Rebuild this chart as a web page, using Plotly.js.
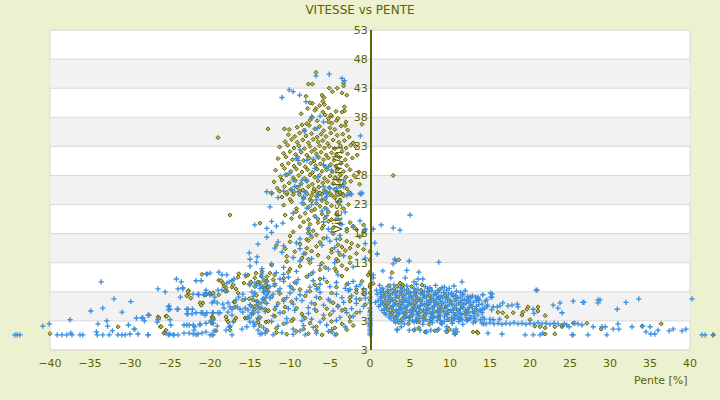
<!DOCTYPE html>
<html>
<head>
<meta charset="utf-8">
<script src="https://cdn.plot.ly/plotly-3.0.1.min.js"></script>
<style>
  html, body { margin: 0; padding: 0; background: #ecf1cf; }
  #graphique { width: 720px; height: 400px; }
</style>
</head>
<body>
<div id="graphique"></div>
<script>
// ticks des axes
const penteTicks = [-40, -35, -30, -25, -20, -15, -10, -5, 0, 5, 10, 15, 20, 25, 30, 35, 40];
const vitesseTicks = [-2, 3, 8, 13, 18, 23, 28, 33, 38, 43, 48, 53];
const vitesseLabels = ['3', '3', '8', '13', '18', '23', '28', '33', '38', '43', '48', '53'];

// points [pente, vitesse] serie jaune (losanges)
const jauneGauche = [
  [-40,0.8],[-31.5,2.0],[-26.5,3.7],[-26.2,2.0],[-25.7,1.0],[-25.5,3.8],[-22.7,7.6],[-22.7,8.2],[-21,11.0],[-20.9,6.1],[-20,7.6],[-19.75,7.6],[-19.6,3.3],
  [-20.4,11.1],[-18.9,10.0],[-18.6,9.9],[-18.4,9.5],[-18.25,9.0],[-18,8.7],[-17.9,8.1],[-17.25,8.8],[-17.1,9.2],[-16.75,8.5],[-16.5,7.8],[-16.4,11.1],[-16.5,10.5],
  [-15.5,10.7],[-15.25,10.9],[-15.75,9.5],[-15.1,9.3],[-14.9,9.7],[-14.25,11.2],[-14,9.7],
  [-13.6,10.7],[-13.25,10.0],[-13,9.3],[-13.4,8.8],[-12.9,8.7],[-13.25,8.0],[-12.75,8.8],[-22.75,8.1],[-22.9,7.3],[-22.4,6.9],[-21.25,6.1],[-21.1,5.7],
  [-20.75,7.5],[-20.5,7.5],[-20,7.8],[-19.6,7.8],[-18.9,7.5],[-18.1,8.1],[-17,6.25],[-16.9,6.25],[-15.9,6.6],[-15.1,6.8],[-14.6,6.6],[-14.1,6.4],
  [-16.9,5.4],[-14.9,5.6],[-14.4,5.0],[-13.75,5.2],[-14,5.9],[-13.1,5.0],[-12.75,4.7],
  [-26.4,3.5],[-25.4,3.8],[-26.1,2.0],[-25.75,0.9],[-25.5,1.4],[-19.75,3.7],[-19.6,3.5],[-19.9,3.0],[-19.75,2.6],[-17.9,3.2],[-18,3.7],[-17.75,2.8],
  [-17.5,2.0],[-17.5,1.4],[-17,3.0],[-16.75,3.5],[-15.6,3.5],[-15.4,3.5],[-14,3.3],[-14,2.8],[-13,2.8],[-12.9,1.4],[-19.25,1.3],
  [-19,34.5],[-17.5,21.2],[-13.75,19.8],[-12.75,36.0]
];

const jaunePic = [
  // haut du pic
  [-6.75,45.7],[-7.7,43.7],[-7.2,43.7],[-3.3,43.9],[-3.3,43.4],[-5.1,43],[-4.7,42.4],[-4.1,43],[-3.5,42.2],[-2.9,41.8],[-8,41.6],[-7.2,40.4],[-7.5,40.5],
  [-6,41.8],[-5.75,41.4],[-5.9,40.7],[-5.7,40.2],[-6.75,39.5],[-6.9,39.2],[-3.2,39.8],[-3.2,39.1],[-4.25,39],[-4.8,38.2],[-5.2,37.8],[-5.6,38.4],
  [-7.9,36.9],[-8.5,36.7],[-7.5,37.5],[-5.2,37.2],[-4.8,37],[-4.2,37.4],[-3,37.2],[-3.1,36.6],[-1.0,36.8],[-10.7,36],[-10.1,35.9],
  [-8.6,38.6],[-7.2,38.0],[-6.6,37.4],[-5.9,38.9],[-4.9,38.4],[-4.0,37.8],[-3.5,38.9],[-7.8,39.5],[-6.3,40.0],[-5.2,39.6],
  [-1.6,31.5],[-1.3,26.5],[-1.8,33.0],
  // coeur du pic
  [-9.1,36.3],[-8.2,35.8],[-7.6,36.6],[-6.9,36.0],[-6.3,36.4],[-5.8,35.7],[-5.0,36.2],[-4.4,35.9],[-3.6,36.5],[-2.8,35.8],
  [-10.2,35.0],[-9.4,34.7],[-8.8,35.3],[-8.0,34.8],[-7.3,35.2],[-6.6,34.6],[-6.1,35.1],[-5.5,34.7],[-4.9,35.3],[-4.1,34.9],[-3.4,35.1],[-2.6,34.6],
  [-10.6,33.8],[-9.8,34.2],[-9.1,33.7],[-8.4,34.1],[-7.7,33.6],[-7.1,34.2],[-6.5,33.8],[-5.9,34.0],[-5.3,33.5],[-4.6,34.1],[-3.9,33.7],[-3.2,34.0],[-2.1,33.6],
  [-11.3,32.9],[-10.3,33.2],[-9.5,32.7],[-8.9,33.1],[-8.2,32.6],[-7.5,33.0],[-6.9,32.5],[-6.3,33.1],[-5.7,32.7],[-5.1,33.0],[-4.4,32.6],[-3.7,33.1],[-3.0,32.7],[-2.4,33.2],
  [-10.8,31.8],[-10.0,32.1],[-9.3,31.6],[-8.6,32.0],[-7.9,31.5],[-7.3,32.1],[-6.7,31.7],[-6.1,32.0],[-5.5,31.5],[-4.8,31.9],[-4.2,31.6],[-3.5,32.1],[-2.8,31.7],
  [-11.5,30.9],[-10.5,31.2],[-9.7,30.7],[-9.0,31.1],[-8.3,30.6],[-7.6,31.0],[-7.0,30.5],[-6.4,31.1],[-5.8,30.7],[-5.2,31.0],[-4.5,30.6],[-3.8,31.1],[-3.1,30.7],[-2.2,31.0],
  [-11.0,29.8],[-10.2,30.1],[-9.5,29.6],[-8.8,30.0],[-8.1,29.5],[-7.4,30.1],[-6.8,29.7],[-6.2,30.0],[-5.6,29.5],[-4.9,29.9],[-4.3,29.6],[-3.6,30.1],[-2.9,29.7],
  [-11.8,28.9],[-10.7,29.2],[-9.9,28.7],[-9.2,29.1],[-8.5,28.6],[-7.8,29.0],[-7.2,28.5],[-6.6,29.1],[-6.0,28.7],[-5.4,29.0],[-4.7,28.6],[-4.0,29.1],[-3.3,28.7],[-2.5,29.0],[-1.4,28.6],
  [-11.2,27.8],[-10.4,28.1],[-9.6,27.6],[-8.9,28.0],[-8.2,27.5],[-7.5,28.1],[-6.9,27.7],[-6.3,28.0],[-5.7,27.5],[-5.0,27.9],[-4.4,27.6],[-3.7,28.1],[-3.0,27.7],[-2.0,28.0],
  [-12.0,26.9],[-11.0,27.2],[-10.1,26.7],[-9.3,27.1],[-8.6,26.6],[-7.9,27.0],[-7.2,26.5],[-6.5,27.1],[-5.9,26.7],[-5.3,27.0],[-4.6,26.6],[-3.9,27.1],[-3.2,26.7],[-2.4,27.0],
  [-11.6,25.8],[-10.7,26.1],[-9.9,25.6],[-9.1,26.0],[-8.4,25.5],[-7.7,26.1],[-7.0,25.7],[-6.4,26.0],[-5.7,25.5],[-5.1,25.9],[-4.4,25.6],[-3.7,26.1],[-2.9,25.7],
  [-12.3,25.0],[-11.3,25.3],[-10.4,24.8],[-9.5,25.2],[-8.8,24.7],[-8.0,25.1],[-7.3,24.6],[-6.7,25.2],[-6.0,24.8],[-5.4,25.1],[-4.8,24.6],[-4.1,25.2],[-3.4,24.8],[-2.6,25.1],
  // bas du pic
  [-11,24.3],[-10.4,25.1],[-10,23.9],[-9.6,24.7],[-8.75,25.3],[-8.3,24.1],[-7.9,24.8],[-7.5,23.9],[-7.1,25.2],[-6.7,24.4],[-6.25,25.0],[-5.6,24.0],[-5,24.9],[-4.4,24.2],[-3.75,25.1],[-3.3,24.5],
  [-10.8,22.9],[-9.8,23.5],[-9.2,22.3],[-8.3,23.1],[-7.7,22.5],[-7.3,23.6],[-6.9,22.2],[-6.7,23.2],[-6.25,22.7],[-6,23.7],[-5.6,22.4],[-5.4,23.3],[-4.8,22.8],[-4,23.4],[-3.3,22.3],[-2.7,23.0],
  [-10.6,21.2],[-9.8,20.6],[-9.2,21.8],[-8.75,20.9],[-8.1,21.5],[-7.7,20.4],[-7.3,21.9],[-6.9,21.0],[-6.5,20.5],[-6,21.4],[-5.6,20.7],[-5.2,21.7],[-4.8,20.4],[-4.2,21.3],
  [-8.75,19.2],[-8.3,20.0],[-7.7,18.7],[-7.5,19.6],[-6.5,19.9],[-6,18.9],[-5.8,19.4],[-5.2,20.1],[-4.6,19.0],[-3.75,19.7],[-2.9,18.8],[-2.5,19.9],[-2.1,19.3],[-1.7,18.7],[-0.8,19.5],
  [-10,17.6],[-9.6,18.3],[-7.9,17.0],[-7.7,18.1],[-7.3,17.4],[-7.1,18.5],[-6.7,17.8],[-5.8,17.2],[-4.6,18.0],[-3.75,17.1],[-2.9,18.4],[-1.25,17.5],[-0.8,18.2],
  [-11.7,16.0],[-10.6,15.4],[-10,16.6],[-8.75,16.2],[-7.9,15.5],[-7.7,16.8],[-6.7,15.8],[-6.25,16.5],[-4.8,15.3],[-4,16.1],[-3.5,15.7],[-2.9,16.7],[-2.5,15.5],[-2.3,16.3],[-1.5,15.9],[-0.8,15.3],
  [-10.4,14.1],[-9.4,14.9],[-8.5,13.8],[-8.1,14.6],[-7.7,13.6],[-7.3,15.0],[-6.5,14.3],[-5.2,13.9],[-4.8,14.8],[-4.2,13.6],[-3.75,14.4],[-3.1,15.1],[-2.5,13.9],[-1.7,14.6],
  [-12.3,12.6],[-10.4,13.2],[-10,11.9],[-8.75,12.4],[-7.5,13.0],[-6.25,11.8],[-6,12.9],[-5.6,12.2],[-4.4,12.0],[-4,13.3],[-3.5,12.5],[-2.9,11.9],[-2.5,13.0],
  [-14.4,10.4],[-13.5,11.5],[-12.9,10.6],[-12.5,11.2],[-12.1,10.1],[-11.9,10.9],[-10.8,10.3],[-10.2,11.4],[-7.9,10.6],[-7.3,11.1],[-6.25,10.2],[-4.2,11.5],[-3.5,10.7],
  [-14.4,8.9],[-13.75,9.6],[-13.1,8.5],[-12.9,9.9],[-11.9,9.1],[-9.8,8.7],[-9.4,9.6],[-8.75,8.4],[-6.9,9.2],[-6.5,8.6],[-5.4,9.7],[-4.2,8.8],[-2.9,9.3],[-1.7,8.4],[-1,9.8],
  [-14.2,7.4],[-13.3,6.8],[-12.7,8.0],[-12.3,7.1],[-11.25,7.7],[-10.8,6.7],[-8.1,7.3],[-7.5,8.1],[-6.25,6.9],[-4.8,7.8],[-2.5,7.0],[-1.7,7.9],[-1.25,6.7],
  [-14.4,5.5],[-13.1,6.2],[-11.9,5.0],[-11.5,6.0],[-10.6,5.4],[-9.8,6.3],[-9.2,5.2],[-6.9,5.9],[-5.4,5.1],[-4.6,6.1],[-4,5.6],[-3.1,5.0],[-2.5,6.4],[-0.6,5.8],
  [-14.6,4.3],[-13.75,3.6],[-12.7,4.8],[-11.9,3.8],[-10.8,4.5],[-9.6,3.3],[-8.5,4.2],[-8.1,3.5],[-6.7,4.7],[-5.8,3.4],[-5,4.1],[-3.5,4.8],[-2.5,3.7],[-1.7,4.4],
  [-13.75,2.2],[-12.7,2.9],[-11.7,1.7],[-10.8,2.5],[-9.8,3.0],[-8.3,1.6],[-7.5,2.6],[-6.7,2.0],[-4.8,2.9],[-4.4,1.8],[-3.5,2.5],[-2.9,1.5],[-2.5,2.9],[-2.1,2.2],
  [-11.7,1.0],[-10.4,0.7],[-9.2,1.2],[-7.7,0.8],[-6.7,1.3],[-6,0.6],[-4.8,1.1],[-4.2,0.7],
  [0,2.5],[0,3.3],[0,4.7],[0,6.6],[0,7.8],[0,8.8],[0,9.2],[0,11.4],[0,13.5],[0,14.9],[-0.25,10.9],[0.4,9.4]
];

const jauneDroite = [
  [2.9,28.0],[2.75,11.3],[3.6,13.5],[3.75,9.5],[4.1,9.2],[4.0,8.8],[3.4,9.0],
  [2.4,9.1],[5.2,8.9],[6.5,9.2],
  [1.4,8.4],[2.2,8.2],[3.0,8.5],[3.9,8.2],[4.7,8.4],[5.6,8.1],[6.4,8.3],[7.3,8.2],[8.7,8.4],
  [1.6,7.7],[2.4,7.5],[3.2,7.8],[4.1,7.4],[4.9,7.7],[5.7,7.5],[6.6,7.8],[7.4,7.4],[8.2,7.6],[9.4,7.5],
  [1.8,7.0],[2.6,6.8],[3.5,7.1],[4.3,6.7],[5.2,7.0],[6.0,6.8],[6.9,7.1],[7.7,6.7],[8.6,6.9],[9.6,7.0],[10.8,6.8],
  [1.5,6.3],[2.3,6.1],[3.1,6.4],[3.9,6.0],[4.8,6.3],[5.6,6.1],[6.4,6.4],[7.3,6.0],[8.1,6.2],[9.0,6.1],[10.1,6.3],[11.3,6.0],
  [1.9,5.6],[2.7,5.4],[3.6,5.7],[4.4,5.3],[5.3,5.6],[6.1,5.4],[6.9,5.7],[7.8,5.3],[8.6,5.5],[9.5,5.4],[10.4,5.6],[11.6,5.3],[12.7,5.5],
  [2.2,4.9],[3.0,4.7],[3.9,5.0],[4.7,4.6],[5.5,4.9],[6.4,4.7],[7.2,5.0],[8.1,4.6],[9.0,4.8],[9.9,4.7],[11.0,4.9],[12.2,4.6],[13.4,4.8],
  [2.6,4.2],[3.4,4.0],[4.3,4.3],[5.1,3.9],[6.0,4.2],[6.8,4.0],[7.7,4.3],[8.6,3.9],[9.6,4.1],[10.7,4.0],[11.9,4.2],
  [3.1,3.5],[4.0,3.3],[4.9,3.6],[5.8,3.2],[6.7,3.5],[7.6,3.3],[8.6,3.5],[9.8,3.2],[11.1,3.4],[12.3,3.3],
  [3.6,2.7],[4.8,2.5],[6.1,2.8],[7.4,2.4],[8.9,2.6],
  [19.75,5.4],[19.6,5.0],[21,5.4],[21,4.7],[21.9,3.9],
  [16,4.5],[16.6,4.4],[17.1,3.7],[17.9,4.4],[19.0,4.0],[19.1,4.5],[20,3.2],[20.6,2.1],[21.25,2.0],[21.9,1.8],[23.1,2.0],
  [9.6,1.1],[13.4,1.1],[13.5,0.9],[10.6,0.75],[6.9,1.1],[5.5,1.4],[6.1,1.8],[8.1,1.3],[9.9,1.6],[12.9,1.1],
  [25.4,2.6],[27.1,2.6],[28.9,1.6],[34,2.1],[36.4,2.5],[42.9,0.6],[24,2.0],[24.1,2.3],[23.1,0.75],[21.9,0.75]
];

// points [pente, vitesse] serie bleue (croix)
const bleuGauche = [
  [-44.4,0.6],[-44.1,0.6],[-43.75,0.6],[-40.9,2.1],[-40.1,2.5],
  [-39.1,0.6],[-38.5,0.6],[-37.9,0.6],[-37.4,0.9],[-37.25,0.6],[-36.25,0.6],[-35.9,0.6],
  [-37.5,3.2],[-34.9,4.7],[-34.2,1.1],[-34,2.5],[-34.1,0.6],[-33.4,0.6],[-32.6,0.6],
  [-33.6,9.7],[-33.4,5.2],[-32.9,3.0],[-32.8,2.1],[-32.2,1.3],[-32,6.8],
  [-31.5,0.6],[-31,0.6],[-30.6,0.6],[-30,0.75],[-31,4.5],[-30.2,2.3],[-29.9,6.3],[-29.5,1.6],
  [-29.2,3.5],[-28.5,3.5],[-28.4,3.5],[-29,0.75],[-28.2,3.0],[-27.7,0.6],[-27.6,4.0],
  [-26.5,8.5],[-25.6,8.0],[-26.6,2.8],[-25.2,5.4],[-25.2,4.9],[-25,3.2],[-24.9,2.3],
  [-25.2,0.6],[-24.6,0.6],[-24,0.6],[-24.2,10.2],[-23.6,9.7],[-23.4,8.5],[-24,8.5],[-23.7,7.1],[-24.1,5.0],
  [-23.25,2.3],[-22.6,2.3],[-22.9,5.0],[-22.9,4.2],[-22.6,0.9],[-22.25,4.2],[-22.2,5.0],[-22.1,7.6],[-22,1.4],[-21.9,2.0],
  [-21.75,9.9],[-21.5,0.75],[-21.4,7.5],[-21.25,2.3],[-21.1,9.9],[-20.9,4.4],[-20.7,7.5],[-20.5,8.3],[-20.4,11.0],
  [-20,0.6],[-19.75,0.6],[-19.9,2.8],[-19.7,4.4],[-19.6,4.4],[-19.5,1.3],
  [-15.1,14.7],[-14.1,14.0],[-15,13.6],[-23.4,8.7],[-20,11.2],[-18.9,11.4],[-18.5,10.9],[-17.9,10.9],[-17.25,9.9],[-17.6,9.7],[-17,10.2],[-15.6,10.9],[-13.5,11.1],
  [-15,9.2],[-14.4,9.5],[-13.75,9.2],[-19,8.3],[-18.5,8.3],[-18.1,8.3],[-17.9,9.5],[-21.5,7.6],[-20.5,7.8],[-20,7.5],[-19.4,7.1],[-19.5,6.4],[-19.1,6.1],[-19.75,6.1],
  [-20.4,4.4],[-20.6,4.0],[-22.75,5.0],[-25.1,5.6],[-25,5.0],[-24,5.0],[-21.75,4.4],[-22.75,4.2],[-21.1,4.4],[-19.6,3.2],[-19,4.4],[-18.75,4.4],
  [-18.4,5.9],[-18.25,5.2],[-17.75,6.1],[-17.5,5.4],[-17.25,5.0],[-17.75,4.5],[-17.25,4.0],[-16.6,5.4],[-16.25,5.0],[-15.6,5.2],[-15.9,4.5],[-15.25,4.9],
  [-15.1,3.5],[-15.25,3.7],[-14.6,5.2],[-14,5.4],[-14,4.5],[-14.75,4.4],[-13.6,6.1],[-13.4,6.8],[-13,7.1],[-12.9,7.5],[-13.4,8.8],[-13.1,8.3],[-12.75,8.0],
  [-14.4,7.8],[-14.75,8.0],[-16.4,7.1],[-16.75,6.6],[-15.9,7.6],[-15.6,6.8],
  [-27.75,4.0],[-26.5,3.2],[-22.9,2.3],[-22.1,2.3],[-21.25,2.5],[-20.5,2.6],[-19.6,2.6],[-19.1,2.1],[-17.5,2.1],[-17.1,2.8],[-16,1.6],[-15.4,2.0],[-14.5,2.1],[-14,1.4],[-15,2.8],[-14.6,2.8],
  [-29.4,1.6],[-27.75,0.6],[-25.5,0.9],[-25,0.75],[-24.5,0.6],[-23.25,0.9],[-22.1,0.75],[-21.75,0.6],[-21,0.9],[-20.5,1.1],[-19.6,0.6],[-18,1.4],[-17.6,2.0],[-17.25,0.6],[-13.75,0.75],[-13.1,0.9]
];

const bleuPic = [
  [-6.75,45.1],[-5.1,45.4],[-3.5,44.7],[-3.2,44.3],[-10.1,42.7],[-9.6,42.4],[-11,41.4],[-8.8,41.8],[-8,40.7],[-6.25,38.2],[-7.3,38.1],[-5.8,37.2],[-8.2,35.6],
  [-1.2,34.8],[-6.6,36.1],[-8.75,32.4],[-7.1,30.8],[-9.2,30.9],[-9,30.6],[-7.9,30.6],[-6.6,31.2],[-5.2,29.5],[-6.9,29.2],[-6.5,27.8],[-9.6,27.2],[-8.5,27.2],
  [-7.9,27.2],[-8.75,26.3],[-9.4,26.1],[-10.6,28.1],[-10,28.4],[-12.9,25.2],[-9.8,25.5],[-9,25.2],[-8.3,24.3],[-6.7,23.8],[-6.5,24.5],[-5.8,26.1],[-5.4,24.9],
  [-5,25.8],[-4.2,25.8],[-3.75,26.3],[-3.3,26.1],[-2.9,24.6],[-2.3,24.8],[-1.25,24.9],[-5.8,29.8],[-4.8,28.9],[-3.3,27.2],[-1.1,24.8],
  [-12.3,24.9],[-11.5,24.2],[-10.8,25.3],[-8.3,24.0],[-8.1,25.1],[-6.5,24.6],[-6,23.9],[-5.6,25.2],[-5.4,24.4],[-2.5,24.7],[-1.0,25.0],
  [-12.5,22.6],[-8.5,23.3],[-7.9,22.4],[-7.3,23.0],[-5.4,22.2],[-3.75,23.5],
  [-9.6,21.5],[-6.7,20.8],[-6,21.9],[-5.4,21.1],[-4,20.6],[-3.1,21.7],
  [-14.4,19.5],[-12.9,18.9],[-12.3,20.1],[-11.7,19.3],[-10.9,19.8],[-7.7,19.0],[-5.8,20.0],[-5.2,18.8],[-3.5,19.6],[-2.1,19.1],[-1.25,20.2],[-0.6,18.8],
  [-12.9,17.4],[-12.3,18.2],[-8.75,17.1],[-7.5,17.9],[-5.4,17.3],[-4.8,18.3],[-4.2,17.0],[-3.75,17.7],
  [-14,16.2],[-11.9,15.5],[-11.5,16.6],[-10.8,15.9],[-9.2,16.4],[-8.75,15.4],[-6,16.0],[-5,16.7],[-4.4,15.6],[-0.6,16.3],
  [-11,14.8],[-9.6,13.9],[-8.3,14.5],[-7.3,13.7],[-4,14.9],[-3.3,14.2],[-0.6,13.8],
  [-15,12.4],[-14.2,13.1],[-13.5,12.0],[-12.3,12.8],[-10.8,12.2],[-8.75,13.3],[-6.25,12.5],[-5.2,11.9],[-4.4,13.0],[-2.1,12.3],
  [-13.5,10.6],[-11.7,11.3],[-11.25,10.2],[-10.8,11.0],[-10.2,10.5],[-9.2,11.5],[-9,10.1],[-7.7,10.8],[-7.1,11.4],[-5.8,10.3],[-4,10.9],
  [-14.2,9.1],[-13.75,8.6],[-12.9,9.7],[-12.5,8.9],[-11.9,9.4],[-11.25,8.5],[-10.8,9.8],[-10,9.0],[-9.6,8.4],[-9.2,9.5],[-7.5,8.8],[-7.1,9.9],[-6.7,8.5],
  [-6.25,9.3],[-5,8.9],[-4.2,9.6],[-3.1,8.6],[-2.7,9.4],[-2.5,8.4],[-2.1,9.8],[-1.7,8.9],[-1.25,9.2],[-0.8,8.5],
  [-14.6,7.2],[-13.3,7.9],[-12.5,6.9],[-12.1,7.6],[-11.5,8.1],[-10.4,7.0],[-10,7.8],[-9.2,6.8],[-8.75,7.5],[-7.9,8.0],[-6.7,7.1],[-6.25,7.9],[-5.2,6.7],
  [-4.2,7.6],[-3.5,7.0],[-2.7,8.2],[-2.3,7.3],[-1.7,6.8],[-0.8,7.7],[-0.6,6.9],
  [-15,5.8],[-14.2,6.3],[-13.5,5.2],[-12.9,6.0],[-11.7,5.5],[-10.8,6.4],[-10.2,5.1],[-9.6,5.9],[-8.5,6.5],[-7.7,5.3],[-7.3,6.1],[-6.9,5.0],[-5.8,5.7],
  [-5,6.4],[-4,5.4],[-3.3,6.2],[-2.3,5.1],[-1.7,6.0],[-0.8,5.5],
  [-14.8,4.1],[-14,3.5],[-13.1,4.6],[-12.1,3.9],[-11.25,4.4],[-10.4,3.4],[-9.4,4.8],[-8.3,3.7],[-7.7,4.3],[-7.3,3.3],[-5.8,4.0],[-4.6,4.7],[-3.75,3.6],
  [-2.9,4.4],[-2.1,3.8],[-1.25,4.6],
  [-14.4,2.4],[-13.3,1.8],[-12.3,2.9],[-11.5,2.1],[-10.4,2.7],[-9.6,1.6],[-8.5,3.0],[-8.3,2.2],[-7.1,1.9],[-6.25,2.8],[-5.4,2.3],[-4.8,1.5],[-4.2,3.1],[-3.1,2.0],
  [-13.5,0.8],[-12.9,1.2],[-12.1,0.6],[-11,1.0],[-9.6,0.7],[-8.75,1.3],[-8.1,0.6],[-6.7,0.9],[-5.2,1.2],[-4.4,0.6],
  [0,0.6],[0,0.9],[0,1.3],[0,1.6],[0,2.0],[0,2.3],[0,2.6],[0,3.0],[0,3.5],[0,4.0],[0,4.5],[0,5.2],[0,6.1],[0,7.1],[0.4,10.9],[0.4,10.4]
];

const bleuDroite = [
  [0.9,14.5],[3.1,13.6],[2.9,12.8],[3.25,13.3],[4.9,13.3],[8.6,13.1],[1.6,11.6],[2.6,10.4],[4.6,11.7],[6.1,11.4],[6.6,10.2],[6.0,10.2],[5.5,9.7],[4.4,10.4],[11.5,9.7],
  [0.4,18.8],[1.4,19.5],[0.6,16.4],[2.9,19.0],[3.75,18.6],[5.0,21.2],
  [7.5,8.7],[9.0,8.7],[8.5,8.3],[7.75,8.2],[10.25,7.5],[11.6,7.6],[12.5,7.1],[13.5,6.8],[14.6,6.6],[15.25,7.6],[15.25,7.1],
  [1.2,9.1],[2.2,8.9],[3.0,9.2],[4.6,9.0],[5.8,9.3],[6.9,8.9],[8.2,9.1],[9.3,8.8],[10.5,9.0],
  [1.6,8.6],[3.8,8.7],[5.5,8.6],[7.2,8.6],[9.9,8.6],
  [0.8,8.3],[1.7,8.0],[2.6,8.4],[3.4,8.1],[4.3,8.3],[5.1,7.9],[6.0,8.4],[6.8,8.0],[7.7,8.2],[8.5,7.9],[9.6,8.3],[10.8,8.1],[11.9,8.2],
  [1.3,7.9],[2.2,7.8],[3.0,8.0],[3.9,7.8],[4.8,8.0],[5.7,7.9],[6.5,7.8],[7.3,8.0],[8.2,7.8],[9.2,7.9],[10.2,7.8],[11.3,7.9],
  [0.9,7.6],[1.9,7.3],[2.8,7.7],[3.7,7.4],[4.5,7.6],[5.4,7.3],[6.3,7.7],[7.1,7.4],[8.0,7.5],[8.9,7.3],[9.8,7.6],[10.7,7.4],[11.6,7.5],[12.8,7.3],
  [1.4,7.2],[2.4,7.1],[3.3,7.3],[4.2,7.1],[5.0,7.2],[5.9,7.1],[6.8,7.3],[7.7,7.1],[8.6,7.2],[9.5,7.1],[10.4,7.2],[11.3,7.1],[12.2,7.2],[13.2,7.1],
  [1.3,6.9],[2.3,6.7],[3.2,7.0],[4.0,6.6],[4.9,6.9],[5.7,6.7],[6.6,7.0],[7.4,6.6],[8.3,6.8],[9.1,6.9],[10.0,6.6],[10.9,6.9],[11.8,6.7],[12.6,6.9],[13.7,6.6],
  [1.0,6.5],[1.9,6.4],[2.8,6.6],[3.7,6.4],[4.6,6.5],[5.4,6.4],[6.3,6.6],[7.1,6.4],[8.0,6.5],[8.8,6.4],[9.7,6.6],[10.6,6.4],[11.5,6.5],[12.3,6.4],[13.3,6.5],[14.4,6.4],
  [0.7,6.2],[1.6,6.0],[2.5,6.3],[3.4,5.9],[4.2,6.2],[5.1,6.0],[5.9,6.3],[6.8,5.9],[7.6,6.2],[8.5,6.0],[9.4,6.2],[10.2,5.9],[11.1,6.1],[12.0,6.0],[12.9,6.2],[14.0,5.9],
  [1.3,5.8],[2.2,5.7],[3.1,5.9],[4.0,5.7],[4.8,5.8],[5.7,5.7],[6.5,5.9],[7.3,5.7],[8.2,5.8],[9.0,5.7],[9.9,5.9],[10.8,5.7],[11.7,5.8],[12.6,5.7],[13.6,5.8],[14.7,5.7],
  [1.1,5.5],[2.0,5.3],[2.9,5.6],[3.8,5.2],[4.6,5.5],[5.5,5.3],[6.3,5.6],[7.2,5.2],[8.0,5.5],[8.9,5.3],[9.7,5.5],[10.6,5.2],[11.5,5.4],[12.4,5.3],[13.3,5.5],[14.3,5.2],
  [1.8,5.0],[2.7,5.1],[3.6,4.9],[4.4,5.1],[5.3,5.0],[6.1,5.1],[7.0,4.9],[7.8,5.1],[8.7,5.0],[9.5,5.1],[10.4,4.9],[11.3,5.1],[12.2,5.0],[13.1,5.1],[14.1,5.0],[15.2,4.9],
  [1.5,4.8],[2.4,4.6],[3.3,4.9],[4.1,4.5],[5.0,4.8],[5.8,4.6],[6.7,4.9],[7.5,4.5],[8.4,4.7],[9.2,4.6],[10.1,4.8],[11.0,4.5],[11.9,4.7],[12.8,4.6],[13.8,4.8],
  [1.8,4.4],[2.7,4.3],[3.5,4.4],[4.4,4.3],[5.2,4.4],[6.1,4.3],[6.9,4.4],[7.8,4.3],[8.6,4.4],[9.5,4.3],[10.4,4.4],[11.3,4.3],[12.2,4.4],[13.1,4.3],[14.0,4.4],
  [2.0,4.1],[2.9,3.9],[3.7,4.2],[4.6,3.8],[5.4,4.1],[6.2,3.9],[7.1,4.2],[8.0,3.8],[8.8,4.0],[9.7,4.1],[10.6,3.9],[11.5,4.1],[12.5,3.9],[13.5,4.0],
  [2.4,3.7],[3.3,3.6],[4.2,3.7],[5.0,3.6],[5.9,3.7],[6.7,3.6],[7.6,3.7],[8.5,3.6],[9.3,3.7],[10.2,3.6],[11.1,3.7],[12.0,3.6],[13.0,3.7],[14.1,3.6],
  [2.6,3.4],[3.5,3.2],[4.4,3.5],[5.3,3.1],[6.2,3.4],[7.0,3.2],[7.9,3.5],[8.8,3.1],[9.7,3.3],[10.6,3.4],[11.5,3.2],[12.6,3.4],[13.8,3.2],[15.0,3.3],
  [3.0,3.0],[4.0,2.9],[4.9,3.0],[5.8,2.9],[6.7,3.0],[7.5,2.9],[8.4,3.0],[9.3,2.9],[10.2,3.0],[11.1,2.9],[12.1,3.0],[13.2,2.9],
  [3.2,2.7],[4.3,2.5],[5.5,2.8],[6.6,2.4],[7.8,2.7],[9.0,2.5],[10.3,2.6],[11.6,2.4],[12.9,2.7],[14.2,2.5],
  [14,2.6],[14.5,2.5],[15,2.7],[15.5,2.5],[16,2.6],[16.5,2.4],[17,2.6],[17.5,2.5],[18,2.7],[18.5,2.5],[19,2.6],[19.5,2.4],[20,2.6],[20.5,2.5],[21,2.7],
  [21.5,2.5],[22,2.6],[22.5,2.4],[23,2.6],[23.5,2.5],
  [10.5,3.3],[11.3,3.4],[12.2,3.2],[13.1,3.4],[14.3,3.3],[15.4,3.2],[16.2,3.3],
  [20.9,8.3],[22.9,5.7],[23.75,6.1],[23.5,5.2],[24,4.4],[18.4,5.9],[18.5,5.4],[20.4,5.0],[20.5,4.3],[15.1,7.8],[15.1,7.1],[16.6,6.1],[16.25,5.6],[17.25,5.6],
  [17.75,5.7],[14.6,5.4],[15.4,5.4],[15.9,5.4],[13.4,6.6],[13.5,7.1],[14.1,7.5],[12.1,6.6],[12.5,6.2],[12.9,4.5],[13.75,4.9],
  [8.4,1.4],[7.1,1.1],[10.6,0.75],[10.9,1.1],[14.75,0.9],[16.5,0.75],[19.4,0.6],[20.4,0.6],[21.6,0.9],[21.25,0.6],
  [3.4,1.6],[3.4,1.4],[3.9,2.0],[4.9,1.4],[5.6,1.6],[6.25,1.4],[7.0,1.1],[7.6,1.4],[8.6,1.6],[9.5,1.3],[10.4,1.3],[10.75,1.6],[9.6,2.0],
  [25.4,6.4],[26.6,6.2],[26.75,6.2],[28.5,6.6],[28.75,6.6],[28.5,6.1],[32,6.2],[33.6,6.8],[40.25,6.8],[30.9,5.0],[20.75,8.3],
  [26,2.5],[26.5,2.3],[25.6,2.6],[24.9,2.0],[25.4,0.6],[27.25,0.6],[27.9,2.0],[29,2.0],[29.4,2.0],[29.6,0.6],[30.4,1.6],[31.1,1.6],[31,2.5],[32.75,2.0],
  [34.1,2.1],[34.5,1.1],[35.1,0.75],[35.6,0.75],[35,2.0],[36,1.4],[37.4,1.3],[37.9,1.6],[39,1.3],[39.5,1.6],[41.5,0.6],[41.9,0.6],[42.9,0.6],[25.25,0.6],
  [24.3,2.5],[24.6,2.3],[23.9,2.2]
];

const olive = '#5e6200';
const grille = '#d9d9d9';
// l'axe des x deborde un peu pour laisser voir les points hors cadre (-44, 43)
const penteMin = -45.5, penteMax = 43.5;

const jaune = jauneGauche.concat(jaunePic, jauneDroite);
const bleu = bleuGauche.concat(bleuPic, bleuDroite);

const traceJaune = {
  x: jaune.map(p => p[0]),
  y: jaune.map(p => p[1]),
  type: 'scatter',
  mode: 'markers',
  name: 'série 1',
  hoverinfo: 'x+y',
  marker: { symbol: 'diamond', size: 3.2, color: '#b8b850', line: { color: '#555500', width: 0.9 } }
};

const traceBleu = {
  x: bleu.map(p => p[0]),
  y: bleu.map(p => p[1]),
  type: 'scatter',
  mode: 'markers',
  name: 'série 2',
  hoverinfo: 'x+y',
  marker: { symbol: 'cross-thin', size: 3.8, color: '#3a8ee0', line: { color: '#3a8ee0', width: 1.3 } }
};

// fond blanc du cadre, bandes grises alternees, lignes de grille, bordure
const formes = [{
  type: 'rect', xref: 'x', yref: 'paper', x0: -40, x1: 40, y0: 0, y1: 1,
  fillcolor: '#ffffff', line: { width: 0 }, layer: 'below'
}];
[[3, 8], [13, 18], [23, 28], [33, 38], [43, 48]].forEach(b => formes.push({
  type: 'rect', xref: 'x', yref: 'y', x0: -40, x1: 40, y0: b[0], y1: b[1],
  fillcolor: '#f2f2f2', line: { width: 0 }, layer: 'below'
}));
vitesseTicks.forEach(v => formes.push({
  type: 'line', xref: 'x', yref: 'y', x0: -40, x1: 40, y0: v, y1: v,
  line: { color: grille, width: 1 }, layer: 'below'
}));
formes.push({
  type: 'rect', xref: 'x', yref: 'paper', x0: -40, x1: 40, y0: 0, y1: 1,
  line: { color: grille, width: 1 }, fillcolor: 'rgba(0,0,0,0)', layer: 'below'
});

const layout = {
  width: 720,
  height: 400,
  paper_bgcolor: '#ecf1cf',
  plot_bgcolor: 'rgba(0,0,0,0)',
  margin: { l: 6, r: 2, t: 30, b: 50 },
  showlegend: false,
  font: { family: 'DejaVu Sans, sans-serif', size: 11, color: olive },
  title: {
    text: 'VITESSE vs PENTE',
    x: 0.5, xanchor: 'center',
    y: 0.975, yanchor: 'middle',
    font: { size: 12, color: olive }
  },
  xaxis: {
    range: [penteMin, penteMax],
    tickvals: penteTicks,
    showgrid: false,
    zeroline: false,
    showline: false,
    ticks: '',
    ticklabelstandoff: 5,
    tickfont: { size: 11, color: olive }
  },
  yaxis: {
    range: [-2, 53],
    tickvals: vitesseTicks,
    ticktext: vitesseLabels,
    anchor: 'free',
    position: (0 - penteMin) / (penteMax - penteMin),
    showline: true,
    linecolor: olive,
    linewidth: 1.5,
    showgrid: false,
    zeroline: false,
    ticks: '',
    tickfont: { size: 11, color: olive }
  },
  shapes: formes,
  annotations: [{
    text: 'Pente [%]', xref: 'x', yref: 'paper', x: 40, y: 0,
    xanchor: 'right', yanchor: 'top', yshift: -22, showarrow: false,
    font: { size: 11, color: olive }
  }, {
    text: 'Vitesse [km/h]', xref: 'x', yref: 'y', x: -4, y: 25.5,
    textangle: -90, showarrow: false,
    font: { size: 12, color: olive }
  }]
};

Plotly.newPlot('graphique', [traceJaune, traceBleu], layout, { displayModeBar: false, staticPlot: true });
</script>
</body>
</html>
